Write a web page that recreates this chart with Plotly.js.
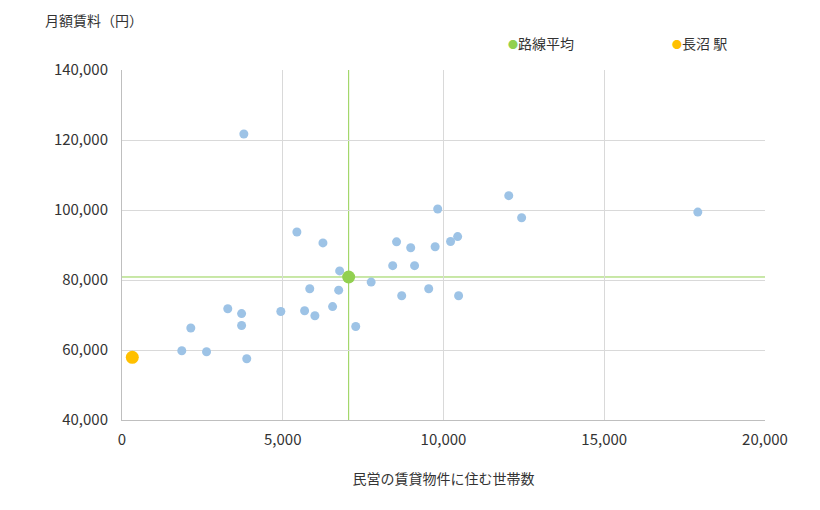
<!DOCTYPE html>
<html>
<head>
<meta charset="utf-8">
<script src="https://cdn.plot.ly/plotly-3.0.1.min.js"></script>
<style>
  body { margin: 0; background: #fff; }
  #chart { width: 820px; height: 510px; }
</style>
</head>
<body>
<div id="chart"></div>
<script>
// households in private rental housing per station, and monthly rent
let households = [3790, 5440, 6250, 8540, 8980, 6770, 8420, 9100, 7750, 5840, 6740,
  8700, 3290, 3720, 4940, 5680, 6000, 6550, 2140, 3720, 7270, 1860, 2630, 3880,
  12030, 12430, 9820, 10440, 10220, 9740, 9540, 10470, 17910];
let rent = [121700, 93700, 90600, 90900, 89200, 82600, 84100, 84100, 79400, 77500, 77100,
  75500, 71800, 70400, 71000, 71200, 69800, 72400, 66300, 67000, 66700, 59800, 59500, 57500,
  104100, 97800, 100300, 92400, 91000, 89500, 77500, 75500, 99400];

// line average
let avgX = [7050];
let avgY = [80860];

// 長沼 駅
let stationX = [320];
let stationY = [57900];

let fontFam = '"Noto Sans CJK JP", "Noto Sans", sans-serif';
let green = '#92d050';
let orange = '#ffc000';

let stations = {
  x: households,
  y: rent,
  mode: 'markers',
  type: 'scatter',
  marker: { color: '#9dc3e6', size: 9 },
  showlegend: false
};

let average = {
  x: avgX,
  y: avgY,
  mode: 'markers',
  type: 'scatter',
  name: '路線平均',
  marker: { color: green, size: 13 },
  showlegend: false
};

let station = {
  x: stationX,
  y: stationY,
  mode: 'markers',
  type: 'scatter',
  name: '長沼 駅',
  marker: { color: orange, size: 13 },
  showlegend: false
};

// small coloured dot used in the legend text
function dot(c) {
  return '<span style="color:' + c + ';font-size:10px">●</span>';
}

let layout = {
  width: 820,
  height: 510,
  margin: { l: 122, r: 55, t: 70, b: 90 },
  paper_bgcolor: '#fff',
  plot_bgcolor: '#fff',
  font: { family: fontFam, size: 14, color: '#333' },
  xaxis: {
    range: [0, 20000],
    tickvals: [0, 5000, 10000, 15000, 20000],
    tickformat: ',d',
    tickfont: { size: 15 },
    showgrid: true,
    gridcolor: '#d9d9d9',
    zeroline: false,
    showline: true,
    linecolor: '#bfbfbf',
    ticks: '',
    ticklabelstandoff: 6,
    title: { text: '民営の賃貸物件に住む世帯数', standoff: 26, font: { size: 14 } }
  },
  yaxis: {
    range: [40000, 140000],
    tickvals: [40000, 60000, 80000, 100000, 120000, 140000],
    tickformat: ',d',
    tickfont: { size: 15 },
    showgrid: true,
    gridcolor: '#d9d9d9',
    zeroline: false,
    showline: true,
    linecolor: '#bfbfbf',
    ticks: '',
    ticklabelstandoff: 10
  },
  shapes: [
    { type: 'line', xref: 'x', yref: 'paper', x0: avgX[0], x1: avgX[0], y0: 0, y1: 1,
      line: { color: green, width: 1 }, layer: 'below' },
    { type: 'line', xref: 'paper', yref: 'y', x0: 0, x1: 1, y0: avgY[0], y1: avgY[0],
      line: { color: green, width: 1 }, layer: 'below' }
  ],
  annotations: [
    { text: '月額賃料（円）', xref: 'paper', yref: 'paper', x: -0.123, y: 1.143,
      xanchor: 'left', yanchor: 'middle', showarrow: false, font: { size: 14 } },
    { text: dot(green) + average.name, xref: 'paper', yref: 'paper',
      x: 0.597, y: 1.077, xanchor: 'left', yanchor: 'middle', showarrow: false, font: { size: 14 } },
    { text: dot(orange) + station.name, xref: 'paper', yref: 'paper',
      x: 0.852, y: 1.077, xanchor: 'left', yanchor: 'middle', showarrow: false, font: { size: 14 } }
  ]
};

Plotly.newPlot('chart', [stations, average, station], layout, { staticPlot: true });
</script>
</body>
</html>
